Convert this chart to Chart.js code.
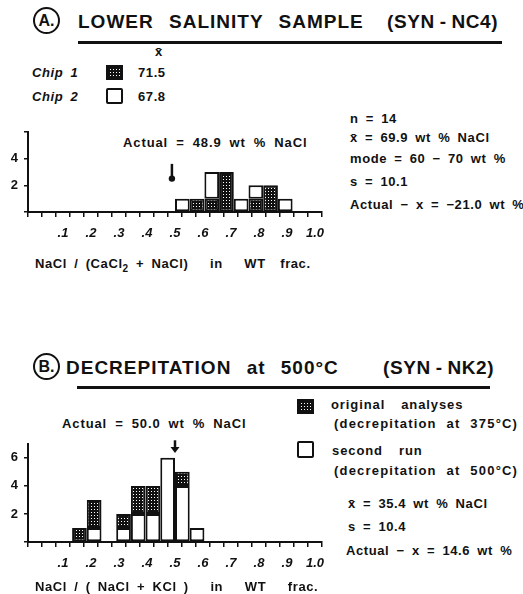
<!DOCTYPE html>
<html>
<head>
<meta charset="utf-8">
<title>NaCl wt fraction histograms</title>
<script src="https://cdn.jsdelivr.net/npm/chart.js@4.4.1/dist/chart.umd.min.js"></script>
<style>
  body { margin: 0; background: #fff; }
  #page { position: relative; width: 523px; height: 594px; overflow: hidden;
          font-family: "Liberation Sans", Arial, sans-serif; font-weight: bold; color: #111; }
  .t { position: absolute; white-space: nowrap; line-height: 1; font-size: 13px;
       letter-spacing: 0.6px; word-spacing: 3px; }
  .mid { letter-spacing: 0.9px; word-spacing: 3.5px; }
  .wide { letter-spacing: 1.2px; word-spacing: 5px; }
  .title { font-size: 19px; letter-spacing: 1px; word-spacing: 9px; }
  .paren { font-size: 19px; letter-spacing: 0.6px; word-spacing: -1px; }
  .it { font-style: italic; }
  .circ { position: absolute; width: 23px; height: 23px; border: 2.5px solid #111; border-radius: 50%;
          font-size: 16px; line-height: 23px; text-align: center; }
  .rule { position: absolute; height: 3px; background: #111; }
  .sw { position: absolute; }
  .plain { position: absolute; border: 2px solid #111; border-radius: 2px; background: #fff; }
  .chart { position: absolute; left: 0; }
</style>
</head>
<body>
<div id="page">
  <!-- A -->
  <div class="circ" style="left:33px;top:7px">A.</div>
  <div class="t title" style="left:78px;top:12px">LOWER SALINITY SAMPLE</div>
  <div class="t paren" style="left:387px;top:12px">(SYN - NC4)</div>
  <div class="rule" style="left:78px;top:41px;width:424px"></div>

  <div class="t" style="left:155px;top:45px">x̄</div>
  <div class="t it" style="left:32px;top:66px">Chip 1</div>
  <canvas class="sw" id="swA1" width="17" height="15" style="left:106px;top:65px"></canvas>
  <div class="t" style="left:138px;top:66px">71.5</div>
  <div class="t it" style="left:32px;top:90px">Chip 2</div>
  <div class="plain" style="left:106px;top:88px;width:13px;height:12px"></div>
  <div class="t" style="left:138px;top:90px">67.8</div>

  <div class="t" style="left:350px;top:112px">n = 14</div>
  <div class="t" style="left:350px;top:131px">x̄ = 69.9 wt % NaCl</div>
  <div class="t" style="left:350px;top:152px">mode = 60 − 70 wt %</div>
  <div class="t" style="left:350px;top:175px">s = 10.1</div>
  <div class="t" style="left:350px;top:198px">Actual − x = −21.0 wt %</div>

  <div class="t mid" style="left:123px;top:136px">Actual = 48.9 wt % NaCl</div>

  <div class="chart" style="top:118px"><canvas id="chartA" width="340" height="133"></canvas></div>
  <div class="t" style="left:35px;top:257px">NaCl / (CaCl<sub style="font-size:10px">2</sub> + NaCl) &nbsp; in &nbsp; WT &nbsp;frac.</div>

  <!-- B -->
  <div class="circ" style="left:33px;top:353px">B.</div>
  <div class="t title" style="left:66px;top:358px">DECREPITATION at 500°C</div>
  <div class="t paren" style="left:383px;top:358px">(SYN - NK2)</div>
  <div class="rule" style="left:77px;top:386px;width:413px"></div>

  <canvas class="sw" id="swB1" width="17" height="15" style="left:297px;top:399px"></canvas>
  <div class="t mid" style="left:331px;top:398px">original &nbsp;analyses</div>
  <div class="t wide" style="left:334px;top:417px">(decrepitation at 375°C)</div>
  <div class="t mid" style="left:62px;top:417px">Actual = 50.0 wt % NaCl</div>
  <div class="plain" style="left:297px;top:441px;width:13px;height:13px"></div>
  <div class="t mid" style="left:332px;top:444px">second &nbsp;run</div>
  <div class="t wide" style="left:334px;top:464px">(decrepitation at 500°C)</div>

  <div class="t" style="left:348px;top:497px">x̄ = 35.4 wt % NaCl</div>
  <div class="t" style="left:348px;top:520px">s = 10.4</div>
  <div class="t" style="left:346px;top:544px">Actual − x = 14.6 wt %</div>

  <div class="chart" style="top:430px"><canvas id="chartB" width="340" height="151"></canvas></div>
  <div class="t" style="left:35px;top:580px">NaCl / ( NaCl + KCl ) &nbsp; in &nbsp; WT &nbsp; frac.</div>
</div>

<script>
// histogram bins, 0.05 wt fraction wide, 0 to 1.0
var bins = ['0-.05', '.05-.10', '.10-.15', '.15-.20', '.20-.25', '.25-.30', '.30-.35', '.35-.40', '.40-.45', '.45-.50',
            '.50-.55', '.55-.60', '.60-.65', '.65-.70', '.70-.75', '.75-.80', '.80-.85', '.85-.90', '.90-.95', '.95-1.0'];

// A. lower salinity sample (SYN-NC4)
var chip1 = [0, 0, 0, 0, 0, 0, 0, 0, 0, 0, 0, 1, 1, 3, 0, 1, 2, 0, 0, 0];
var chip2 = [0, 0, 0, 0, 0, 0, 0, 0, 0, 0, 1, 0, 2, 0, 1, 1, 0, 1, 0, 0];
var actualA = 0.489;

// B. decrepitation at 500 C (SYN-NK2)
var secondRun = [0, 0, 0, 0, 1, 0, 1, 2, 2, 6, 4, 1, 0, 0, 0, 0, 0, 0, 0, 0];
var originalRun = [0, 0, 0, 1, 2, 0, 1, 2, 2, 0, 1, 0, 0, 0, 0, 0, 0, 0, 0, 0];
var actualB = 0.500;

// axis labels
var fracTicks = [0.1, 0.2, 0.3, 0.4, 0.5, 0.6, 0.7, 0.8, 0.9, 1.0];
var fracLabels = ['.1', '.2', '.3', '.4', '.5', '.6', '.7', '.8', '.9', '1.0'];
var countTicksA = [2, 4];
var countTicksB = [2, 4, 6];

var ink = '#111';
var font = 'Liberation Sans';

// black screen with small white dots, like the stippled boxes
function dotPattern() {
  var c = document.createElement('canvas');
  c.width = 3; c.height = 3;
  var g = c.getContext('2d');
  g.fillStyle = ink; g.fillRect(0, 0, 3, 3);
  g.fillStyle = '#fff'; g.fillRect(1, 1, 1, 1);
  return g.createPattern(c, 'repeat');
}
var dots = dotPattern();

function swatch(id) {
  var cv = document.getElementById(id);
  var g = cv.getContext('2d');
  g.fillStyle = dots;
  g.fillRect(0, 0, cv.width, cv.height);
  g.strokeStyle = ink; g.lineWidth = 2;
  g.strokeRect(1, 1, cv.width - 2, cv.height - 2);
}
swatch('swA1');
swatch('swB1');

// the "Actual" arrow over the histogram
var arrowPlugin = {
  id: 'actualArrow',
  afterDatasetsDraw: function (chart, args, opts) {
    var ctx = chart.ctx;
    var x = chart.scales.xt.getPixelForValue(opts.value);
    var y1 = chart.scales.y.getPixelForValue(opts.from);
    var y2 = chart.scales.y.getPixelForValue(opts.to);
    ctx.save();
    ctx.strokeStyle = ink; ctx.fillStyle = ink; ctx.lineWidth = 2.5;
    ctx.beginPath();
    ctx.moveTo(x, y1);
    ctx.lineTo(x, opts.head === 'dot' ? y2 : y2 - 5);
    ctx.stroke();
    ctx.beginPath();
    if (opts.head === 'dot') {
      ctx.arc(x, y2, 3.2, 0, Math.PI * 2);
    } else {
      ctx.moveTo(x - 4.5, y2 - 6);
      ctx.lineTo(x + 4.5, y2 - 6);
      ctx.lineTo(x, y2);
      ctx.closePath();
    }
    ctx.fill();
    ctx.restore();
  }
};

function barSet(values, fill) {
  return {
    data: values.map(function (v) { return v || null; }),
    backgroundColor: fill,
    borderColor: ink,
    borderWidth: 2,
    borderSkipped: false,
    barPercentage: 1,
    categoryPercentage: 1,
    inflateAmount: 0
  };
}

function histogram(id, sets, yMax, countTicks, arrow) {
  return new Chart(document.getElementById(id), {
    type: 'bar',
    data: { labels: bins, datasets: sets },
    options: {
      responsive: false,
      animation: false,
      events: [],
      layout: { padding: { left: 0, top: 10, right: 18, bottom: 0 } },
      plugins: {
        legend: { display: false },
        tooltip: { enabled: false },
        actualArrow: arrow
      },
      scales: {
        x: { stacked: true, display: false },
        xt: {
          type: 'linear', position: 'bottom', min: 0, max: 1,
          afterFit: function (s) { s.height = 39; },
          border: { color: ink, width: 2 },
          grid: { drawOnChartArea: false, color: ink, lineWidth: 1.5, tickLength: 5 },
          ticks: {
            stepSize: 0.05, autoSkip: false, maxRotation: 0, padding: 9, color: ink,
            font: { family: font, size: 13, style: 'italic', weight: 'bold' },
            callback: function (v) {
              for (var i = 0; i < fracTicks.length; i++) {
                if (Math.abs(fracTicks[i] - v) < 1e-6) return fracLabels[i];
              }
              return '';
            }
          }
        },
        y: {
          stacked: true, min: 0, max: yMax,
          afterFit: function (s) { s.width = 28; },
          border: { color: ink, width: 2 },
          grid: { drawOnChartArea: false, color: ink, lineWidth: 1.5, tickLength: 4 },
          ticks: {
            stepSize: 1, includeBounds: false, padding: 6, color: ink,
            font: { family: font, size: 13, weight: 'bold' },
            callback: function (v) { return countTicks.indexOf(v) < 0 ? '' : String(v); }
          }
        }
      }
    },
    plugins: [arrowPlugin]
  });
}

histogram('chartA', [barSet(chip1, dots), barSet(chip2, '#fff')], 6.0, countTicksA,
          { value: actualA, from: 3.6, to: 2.5, head: 'dot' });
histogram('chartB', [barSet(secondRun, '#fff'), barSet(originalRun, dots)], 7.0, countTicksB,
          { value: actualB, from: 7.25, to: 6.35, head: 'arrow' });
</script>
</body>
</html>
